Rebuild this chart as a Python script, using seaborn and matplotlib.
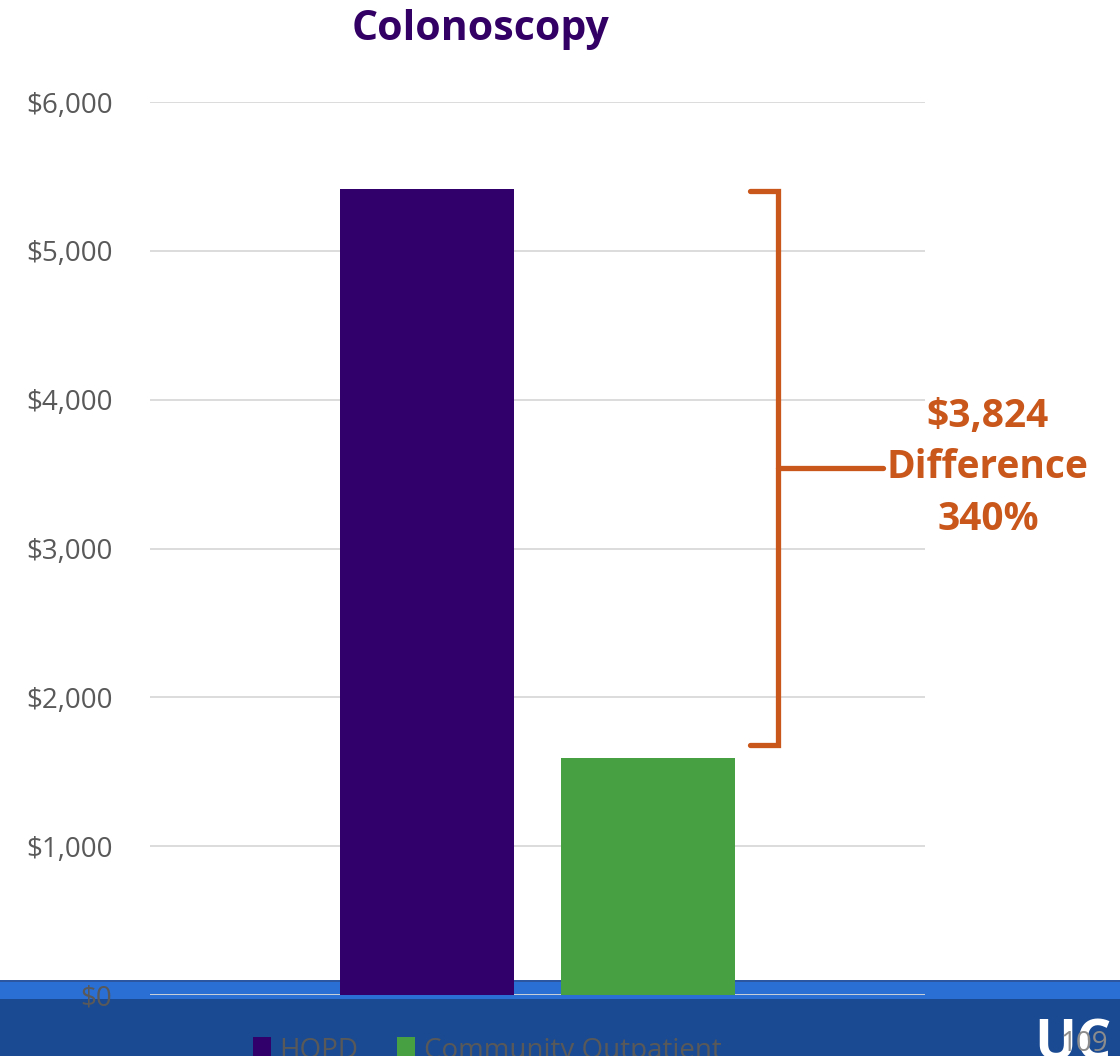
import matplotlib
matplotlib.use("Agg")
import matplotlib.pyplot as plt
import matplotlib.patches as mpatches
import seaborn as sns
import pandas as pd

# ---- data ----
categories = ["HOPD", "Community Outpatient"]
costs = [5416, 1592]
bar_colors = ["#31006B", "#47A142"]
title = "Colonoscopy"
yticks = [0, 1000, 2000, 3000, 4000, 5000, 6000]
ytick_labels = ["$0", "$1,000", "$2,000", "$3,000", "$4,000", "$5,000", "$6,000"]
difference = costs[0] - costs[1]
pct = round(costs[0] / costs[1] * 100)
annot_lines = [f"${difference:,}", "Difference", f"{pct}%"]

sns.set_theme(style="white")
plt.rcParams["font.family"] = ["Open Sans", "DejaVu Sans"]

W, H = 1120, 1056
fig = plt.figure(figsize=(W / 100, H / 100), dpi=100, facecolor="white")

# slide footer band (behind the axes)
band_dark = mpatches.Rectangle((0, 0), 1, (H - 999) / H, transform=fig.transFigure,
                               facecolor="#1A4A91", edgecolor="none", zorder=-3)
band_light = mpatches.Rectangle((0, (H - 999) / H), 1, 18 / H, transform=fig.transFigure,
                                facecolor="#2A6FD4", edgecolor="none", zorder=-3)
band_top = mpatches.Rectangle((0, (H - 982) / H), 1, 2.5 / H, transform=fig.transFigure,
                              facecolor="#2C57A0", edgecolor="none", zorder=-3)
for p in (band_dark, band_light, band_top):
    fig.add_artist(p)

left, right = 150 / W, 925 / W
bottom, top = 1 - 995 / H, 1 - 102 / H
ax = fig.add_axes([left, bottom, right - left, top - bottom])
ax.patch.set_alpha(0)

df = pd.DataFrame({"category": categories, "cost": costs})
sns.barplot(data=df, x="category", y="cost", hue="category",
            palette=bar_colors, width=0.787, saturation=1, legend=False, ax=ax,
            linewidth=0, edgecolor="none", zorder=3)

ax.set_xlim(-1.2535, 2.2535)
ax.set_ylim(0, 6000)
ax.set_yticks(yticks)
ax.set_yticklabels(ytick_labels, fontsize=20, color="#595959")
ax.set_xticks([])
ax.set_xlabel("")
ax.set_ylabel("")
ax.tick_params(axis="y", length=0, pad=27)
ax.grid(axis="y", color="#D9D9D9", linewidth=1.3, zorder=0)
ax.set_axisbelow(True)
for s in ax.spines.values():
    s.set_visible(False)

# bracket annotation
orange = "#C9561A"
br_top = costs[0] - 14
br_bot = costs[1] + 88
br_mid = (br_top + br_bot) / 2
x_v, x_l, x_r = 1.588, 1.461, 2.063
ax.plot([x_l, x_v, x_v, x_l], [br_top, br_top, br_bot, br_bot], color=orange,
        linewidth=3.8, solid_joinstyle="miter", clip_on=False, zorder=4)
ax.plot([x_v, x_r], [br_mid, br_mid], color=orange, linewidth=3.8,
        clip_on=False, zorder=4)
line_step = 346
for i, txt in enumerate(annot_lines):
    ax.text(2.538, br_mid + (1 - i) * line_step, txt, ha="center", va="center",
            fontsize=28, fontweight="bold", color=orange, clip_on=False,
            family=["Open Sans", "DejaVu Sans"])

# title
fig.text(481 / W, 1 - 30 / H, title, ha="center", va="center", fontsize=29.5,
         fontweight="bold", color="#330066", family=["Open Sans", "DejaVu Sans"])

# legend (cut off by the slide edge, as in the reference)
handles = [mpatches.Patch(facecolor=c, edgecolor="none", label=l)
           for c, l in zip(bar_colors, categories)]
fig.legend(handles=handles, loc="upper left", bbox_to_anchor=(228 / W, 1 - 1012 / H),
           ncol=2, frameon=False, fontsize=20, labelcolor="#595959",
           handlelength=0.65, handleheight=0.9, handletextpad=0.3, columnspacing=1.4)

# logo + page number
fig.text(1034 / W, 1 - 1018 / H, "UC", ha="left", va="top", fontsize=40,
         fontweight="bold", color="white")
fig.text(1060 / W, 1 - 1030 / H, "109", ha="left", va="top", fontsize=20,
         color="#8C8C8C")

fig.savefig("out.png", dpi=100, facecolor="white")
